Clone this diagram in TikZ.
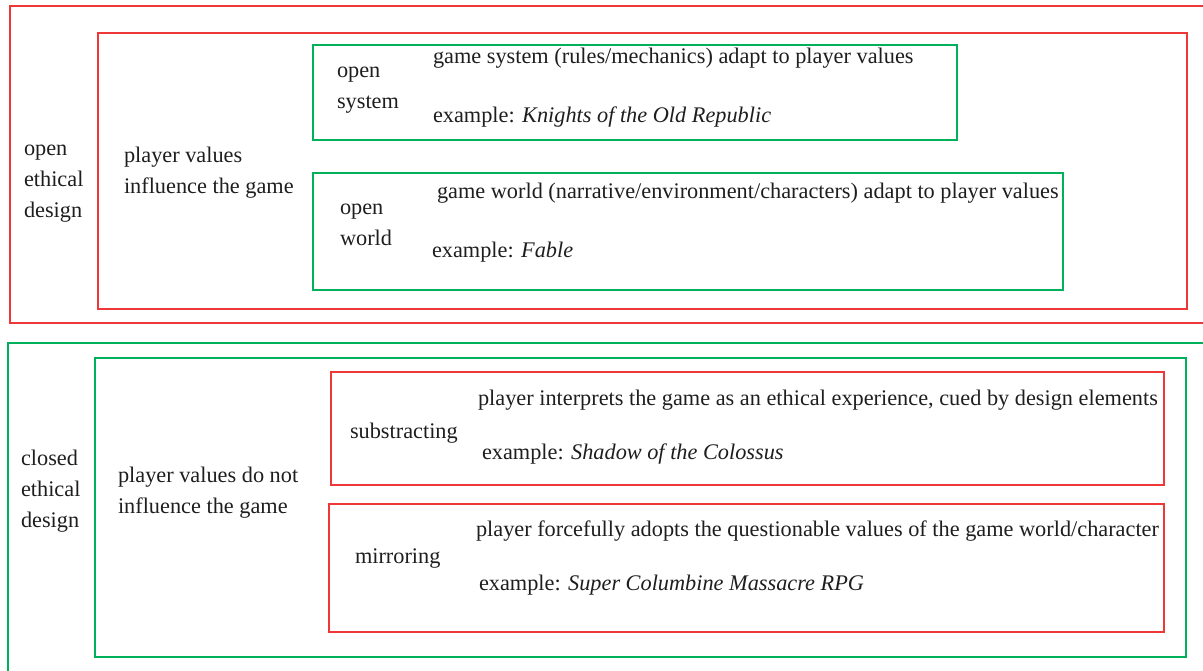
\documentclass[tikz,border=0pt]{standalone}
\usepackage{fontspec}
\setmainfont{Liberation Serif}
\definecolor{boxred}{RGB}{238,56,56}
\definecolor{boxgreen}{RGB}{0,176,90}
\definecolor{txt}{RGB}{30,30,30}
\begin{document}
\begin{tikzpicture}[x=1pt,y=-1pt,
  frame/.style={draw, line width=2pt, rectangle, inner sep=0pt, outer sep=0pt, anchor=north west},
  redframe/.style={frame, draw=boxred},
  greenframe/.style={frame, draw=boxgreen},
  lbl/.style={anchor=base west, inner sep=0pt, outer sep=0pt, align=left, text=txt,
    font=\fontsize{22.3}{31}\selectfont}]
\useasboundingbox (0,0) rectangle (1203,670);
\clip (0,0) rectangle (1203,670);
% top half
\node[redframe, minimum width=1210pt, minimum height=317pt] (openouter) at (10,6) {};
\node[redframe, minimum width=1089pt, minimum height=276pt] (openinner) at (98,33) {};
\node[greenframe, minimum width=644pt, minimum height=95pt] (opensys) at (313,45) {};
\node[greenframe, minimum width=750pt, minimum height=117pt] (openworld) at (313,173) {};
\node[lbl] (oed) at (24,217) {open\\ethical\\design};
\node[lbl] (pvi) at (124,193) {player values\\influence the game};
\node[lbl] (os) at (337,108) {open\\system};
\node[lbl] (osd) at (433,63) {game system (rules/mechanics) adapt to player values};
\node[lbl] (ose) at (433,122) {example: \textit{Knights of the Old Republic}};
\node[lbl] (ow) at (340,245) {open\\world};
\node[lbl] (owd) at (437,198) {game world (narrative/environment/characters) adapt to player values};
\node[lbl] (owe) at (432,257) {example: \textit{Fable}};
% bottom half
\node[greenframe, minimum width=1215pt, minimum height=340pt] (closedouter) at (8,343) {};
\node[greenframe, minimum width=1091pt, minimum height=299pt] (closedinner) at (95,358) {};
\node[redframe, minimum width=833pt, minimum height=113pt] (subbox) at (331,372) {};
\node[redframe, minimum width=835pt, minimum height=128pt] (mirbox) at (329,504) {};
\node[lbl] (ced) at (21,527) {closed\\ethical\\design};
\node[lbl] (pvn) at (118,513) {player values do not\\influence the game};
\node[lbl] (sub) at (350,438) {substracting};
\node[lbl] (subd) at (478,405) {player interprets the game as an ethical experience, cued by design elements};
\node[lbl] (sube) at (482,459) {example: \textit{Shadow of the Colossus}};
\node[lbl] (mir) at (355,563) {mirroring};
\node[lbl] (mird) at (476,536) {player forcefully adopts the questionable values of the game world/character};
\node[lbl] (mire) at (479,590) {example: \textit{Super Columbine Massacre RPG}};
\end{tikzpicture}
\end{document}
